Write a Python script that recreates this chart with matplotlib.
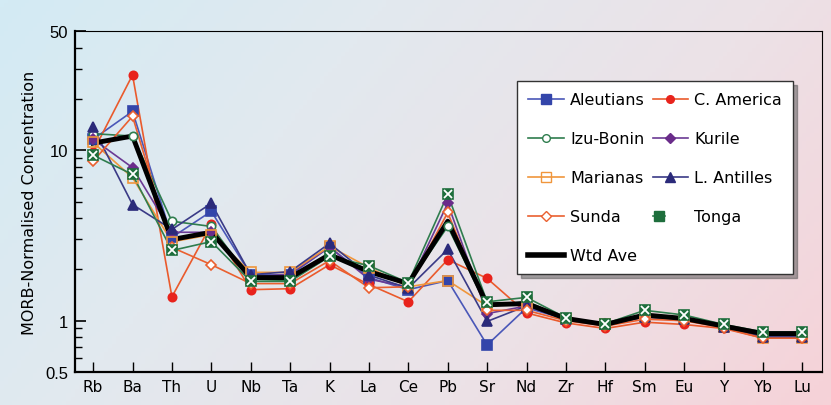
import matplotlib
matplotlib.use("Agg")
import matplotlib.pyplot as plt
import numpy as np
from matplotlib.lines import Line2D
from matplotlib.legend_handler import HandlerTuple
from matplotlib.colors import LinearSegmentedColormap
from matplotlib.ticker import LogLocator, FixedLocator, NullFormatter

# ── Data (MORB-normalised) ─────────────────────────────────────────────────────
elements = ["Rb", "Ba", "Th", "U", "Nb", "Ta", "K", "La", "Ce", "Pb",
            "Sr", "Nd", "Zr", "Hf", "Sm", "Eu", "Y", "Yb", "Lu"]

aleutians  = [11.6, 16.9, 3.08, 4.38, 1.86, 1.85, 2.70, 1.79, 1.52, 1.72, 0.72, 1.19, 1.02, 0.95, 1.05, 1.02, 0.92, 0.80, 0.80]
c_america  = [9.8, 27.6, 1.38, 3.67, 1.52, 1.54, 2.13, 1.63, 1.29, 2.28, 1.77, 1.11, 0.97, 0.90, 0.98, 0.95, 0.90, 0.79, 0.79]
izu_bonin  = [12.5, 12.1, 3.83, 3.57, 1.75, 1.72, 2.40, 2.00, 1.65, 3.57, 1.20, 1.30, 1.03, 0.95, 1.07, 1.03, 0.93, 0.81, 0.81]
kurile     = [11.6, 7.9, 3.30, 3.30, 1.80, 1.88, 2.70, 1.75, 1.58, 4.88, 1.10, 1.22, 1.02, 0.95, 1.05, 1.02, 0.92, 0.80, 0.80]
marianas   = [11.1, 6.9, 2.90, 3.20, 1.92, 1.92, 2.73, 2.05, 1.58, 1.72, 1.22, 1.27, 1.02, 0.95, 1.05, 1.02, 0.92, 0.79, 0.79]
l_antilles = [13.6, 4.8, 3.43, 4.88, 1.86, 1.94, 2.84, 1.85, 1.55, 2.62, 0.99, 1.22, 1.02, 0.95, 1.05, 1.02, 0.92, 0.80, 0.80]
sunda      = [8.6, 15.8, 2.69, 2.13, 1.65, 1.65, 2.25, 1.56, 1.58, 4.31, 1.15, 1.15, 1.00, 0.93, 1.02, 1.00, 0.91, 0.79, 0.79]
tonga      = [9.35, 7.2, 2.58, 2.91, 1.70, 1.70, 2.38, 2.10, 1.67, 5.51, 1.29, 1.37, 1.04, 0.96, 1.15, 1.08, 0.95, 0.86, 0.86]
wtd_ave    = [11.0, 12.1, 2.99, 3.30, 1.79, 1.79, 2.44, 1.94, 1.65, 3.83, 1.24, 1.26, 1.03, 0.95, 1.08, 1.03, 0.93, 0.84, 0.84]

# name, values, line colour, marker, face colour, edge colour
SERIES = [
    ("Aleutians",   aleutians,  "#4a57b8", "s", "#3345aa", "#3345aa"),
    ("C. America",  c_america,  "#ea5a2c", "o", "#e8231c", "#e8231c"),
    ("Izu-Bonin",   izu_bonin,  "#2f7d4e", "o", "white",   "#2f7d4e"),
    ("Kurile",      kurile,     "#6b3a94", "D", "#6a2c8a", "#6a2c8a"),
    ("Marianas",    marianas,   "#f0963c", "s", "none",    "#f0963c"),
    ("L. Antilles", l_antilles, "#3a3a86", "^", "#2b2a7a", "#2b2a7a"),
    ("Sunda",       sunda,      "#ea6030", "D", "white",   "#ea6030"),
    ("Tonga",       tonga,      "#2f7d4e", "s", "#1e6e3c", "#1e6e3c"),
]
MSIZE = {"s": 7, "o": 6, "D": 5.5, "^": 7.5}

W, H = 831, 406
fig = plt.figure(figsize=(W / 100, H / 100), dpi=100)

# ── Background gradient ───────────────────────────────────────────────────────
bg = fig.add_axes([0, 0, 1, 1], zorder=-10)
gx, gy = np.meshgrid(np.linspace(0, 1, 200), np.linspace(0, 1, 100))
grad = 0.72 * gx + 0.28 * gy
cmap = LinearSegmentedColormap.from_list(
    "bg", ["#d3ebf4", "#e2e9ef", "#ece2e7", "#f6d2d8"])
bg.imshow(grad, cmap=cmap, aspect="auto", extent=[0, 1, 0, 1], origin="upper")
bg.axis("off")

# ── Main axes ─────────────────────────────────────────────────────────────────
ax = fig.add_axes([75 / W, 1 - 373 / H, 747 / W, 341 / H])
ax.set_facecolor("none")
x = np.arange(len(elements))

handles = []
for name, vals, lc, mk, fc, ec in SERIES:
    ms = MSIZE[mk]
    ax.plot(x, vals, color=lc, lw=1.2, zorder=2)
    ax.plot(x, vals, ls="none", marker=mk, ms=ms, mfc=fc, mec=ec, mew=1.2, zorder=4)
    h = Line2D([], [], color=lc, lw=1.2, marker=mk, ms=ms - 0.5, mfc=fc, mec=ec, mew=1.0)
    if name == "Tonga":
        ax.plot(x, vals, ls="none", marker="x", ms=ms - 1.5, mec="white", mew=1.3, zorder=5)
        hx = Line2D([], [], ls="none", marker="x", ms=ms - 2, mec="white", mew=1.1)
        h = (h, hx)
    handles.append(h)

ax.plot(x, wtd_ave, color="black", lw=3.5, zorder=3)
handles.append(Line2D([], [], color="black", lw=4))
labels = [s[0] for s in SERIES] + ["Wtd Ave"]

# reorder so legend reads row-wise in two columns
order = [0, 2, 4, 6, 8, 1, 3, 5, 7]
leg = ax.legend([handles[i] for i in order], [labels[i] for i in order],
                ncol=2, loc="upper left", bbox_to_anchor=(0.592, 0.853),
                borderaxespad=0,
                frameon=True, fancybox=False, shadow={"ox": 3, "oy": -3, "color": "#555555"},
                edgecolor="#333333", framealpha=1, fontsize=11.5,
                handlelength=2.2, handletextpad=0.4, columnspacing=0.5,
                labelspacing=1.5, borderpad=0.7,
                handler_map={tuple: HandlerTuple(ndivide=None)})
leg.set_zorder(10)
leg.get_frame().set_linewidth(1.0)

ax.set_yscale("log")
ax.set_ylim(0.5, 50)
ax.set_xlim(-0.46, 18.5)
ax.yaxis.set_major_locator(FixedLocator([0.5, 1, 10, 50]))
ax.yaxis.set_major_formatter(plt.FuncFormatter(lambda v, p: f"{v:g}"))
ax.yaxis.set_minor_locator(LogLocator(base=10, subs=np.arange(2, 10), numticks=20))
ax.yaxis.set_minor_formatter(NullFormatter())
ax.set_xticks(x)
ax.set_xticklabels(elements, fontsize=11)
ax.tick_params(axis="both", which="both", direction="in", top=False, right=False)
ax.tick_params(axis="y", which="major", length=8, width=1.2, labelsize=12, pad=5)
ax.tick_params(axis="y", which="minor", length=5, width=1.0)
ax.tick_params(axis="x", length=7, width=1.0, pad=5)
for lab in ax.get_yticklabels():
    lab.set_fontfamily("Liberation Sans")
for side in ["left", "bottom"]:
    ax.spines[side].set_linewidth(1.6)
for side in ["top", "right"]:
    ax.spines[side].set_linewidth(0.8)

ax.set_ylabel("MORB-Normalised Concentration", fontsize=11.5, labelpad=6)

fig.savefig("out.png", dpi=100)
